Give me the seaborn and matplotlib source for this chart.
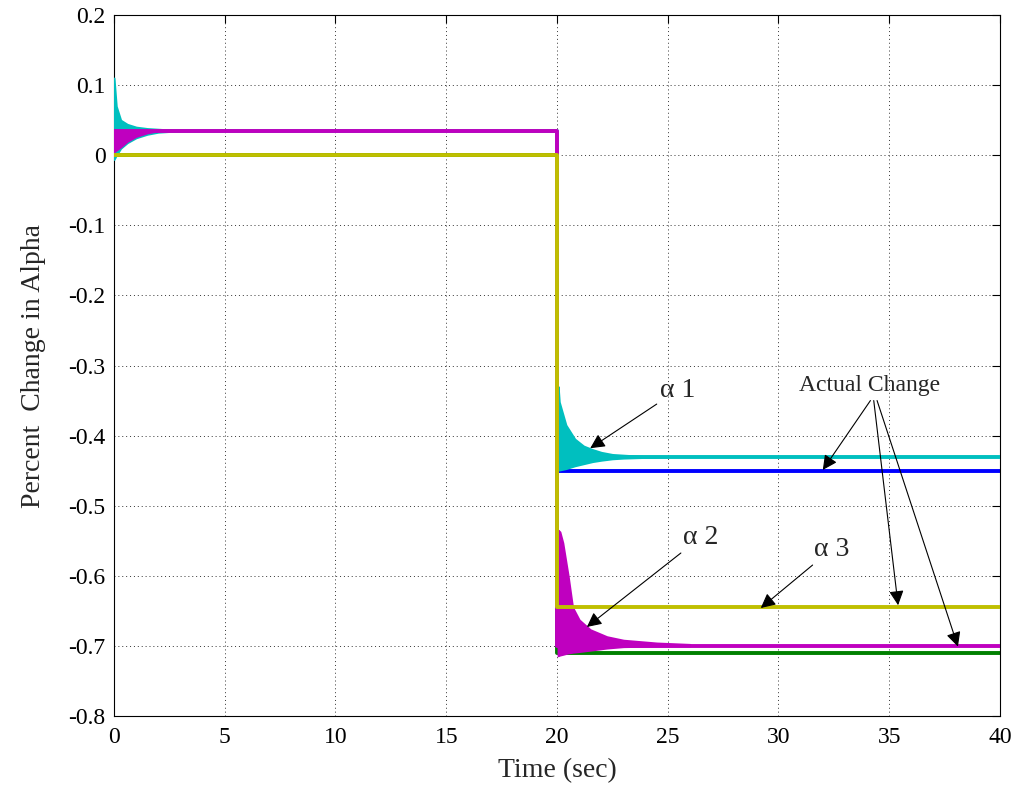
import numpy as np
import pandas as pd
import matplotlib
matplotlib.use("Agg")
import matplotlib.pyplot as plt
import seaborn as sns

# ---- data ----
step_time = [0, 20, 20, 40]
alpha1_est = [0.035, 0.035, -0.43, -0.43]      # cyan
alpha2_est = [0.035, 0.035, -0.70, -0.70]      # magenta
alpha3_est = [0.0, 0.0, -0.645, -0.645]        # yellow
alpha1_act = [0.0, 0.0, -0.45, -0.45]          # blue
alpha2_act = [0.0, 0.0, -0.71, -0.71]          # green

# oscillation envelopes (upper / lower) of the transients
a1_start_t = [0, 0.1, 0.3, 0.6, 1.0, 1.5, 2.0, 2.5, 3.0]
a1_start_hi = [0.11, 0.07, 0.05, 0.044, 0.04, 0.038, 0.037, 0.036, 0.035]
a1_start_lo = [-0.006, 0.0, 0.01, 0.018, 0.025, 0.03, 0.033, 0.034, 0.035]

a2_start_t = [0, 0.3, 0.6, 1.0, 1.5, 2.0]
a2_start_hi = [0.034, 0.035, 0.035, 0.035, 0.035, 0.035]
a2_start_lo = [0.005, 0.012, 0.02, 0.027, 0.032, 0.035]

a1_step_t = [20.05, 20.1, 20.4, 20.8, 21.2, 21.6, 22.0, 22.5, 23.0, 24.0, 25.0]
a1_step_hi = [-0.33, -0.352, -0.385, -0.405, -0.415, -0.42, -0.424, -0.427, -0.428, -0.43, -0.43]
a1_step_lo = [-0.449, -0.449, -0.447, -0.443, -0.44, -0.437, -0.435, -0.433, -0.432, -0.431, -0.43]

a2_step_t = [20.05, 20.13, 20.26, 20.5, 20.7, 21.0, 21.5, 22.25, 23.0, 24.5, 26.0]
a2_step_hi = [-0.535, -0.5375, -0.553, -0.60, -0.645, -0.663, -0.677, -0.687, -0.692, -0.696, -0.698]
a2_step_lo = [-0.714, -0.713, -0.712, -0.71, -0.709, -0.708, -0.706, -0.703, -0.701, -0.70, -0.70]

x_ticks = [0, 5, 10, 15, 20, 25, 30, 35, 40]
y_ticks = [-0.8, -0.7, -0.6, -0.5, -0.4, -0.3, -0.2, -0.1, 0, 0.1, 0.2]
y_tick_labels = ['-0.8', '-0.7', '-0.6', '-0.5', '-0.4', '-0.3', '-0.2', '-0.1', '0', '0.1', '0.2']

# ---- styling ----
sns.set_theme(style="white")
plt.rcParams['font.family'] = ['Liberation Serif', 'DejaVu Serif']
plt.rcParams['axes.unicode_minus'] = False

CYAN = '#00bfbf'
MAGENTA = '#bf00bf'
YELLOW = '#bfbf00'
BLUE = '#0000ff'
GREEN = '#008000'
LW = 2.8

fig = plt.figure(figsize=(10.14, 7.92), dpi=100)
ax = fig.add_axes([0.1124, 0.096, 0.8738, 0.885])

def step_line(vals, color, z):
    df = pd.DataFrame({'t': step_time, 'v': vals})
    sns.lineplot(data=df, x='t', y='v', ax=ax, color=color, lw=LW,
                 sort=False, estimator=None, zorder=z)

step_line(alpha1_act, BLUE, 2)
step_line(alpha2_act, GREEN, 2)
ax.fill_between(a1_start_t, a1_start_lo, a1_start_hi, color=CYAN, lw=1.5, edgecolor=CYAN, zorder=3)
ax.fill_between(a1_step_t, a1_step_lo, a1_step_hi, color=CYAN, lw=1.5, edgecolor=CYAN, zorder=3)
step_line(alpha1_est, CYAN, 3)
ax.fill_between(a2_start_t, a2_start_lo, a2_start_hi, color=MAGENTA, lw=1.5, edgecolor=MAGENTA, zorder=4)
ax.fill_between(a2_step_t, a2_step_lo, a2_step_hi, color=MAGENTA, lw=1.5, edgecolor=MAGENTA, zorder=4)
step_line(alpha2_est, MAGENTA, 4)
step_line(alpha3_est, YELLOW, 5)

ax.set_xlim(0, 40)
ax.set_ylim(-0.8, 0.2)
ax.set_xticks(x_ticks)
ax.set_xticklabels([str(v) for v in x_ticks])
ax.set_yticks(y_ticks)
ax.set_yticklabels(y_tick_labels)
ax.tick_params(direction='in', length=6, width=0.8, top=True, right=True,
               labelsize=17, colors='black', pad=6)
ax.tick_params(axis='x', pad=8)
for s in ax.spines.values():
    s.set_color('black')
    s.set_linewidth(0.8)
ax.grid(True, linestyle=(0, (1, 3)), color='black', linewidth=0.7, alpha=0.8)
ax.set_axisbelow(True)

ax.set_xlabel('Time (sec)', fontsize=20, labelpad=7)
ax.set_ylabel('Percent  Change in Alpha', fontsize=20, labelpad=16)

arrow = dict(arrowstyle='-|>', color='black', lw=0.8, mutation_scale=22,
             shrinkA=0, shrinkB=0)
ax.annotate('α 1', xy=(21.5, -0.418), xytext=(24.65, -0.353), fontsize=20,
            ha='left', va='bottom', arrowprops=arrow, zorder=10)
ax.annotate('α 2', xy=(21.35, -0.673), xytext=(25.7, -0.545), fontsize=20,
            ha='left', va='center', arrowprops=arrow, zorder=10)
ax.annotate('α 3', xy=(29.2, -0.646), xytext=(31.6, -0.58), fontsize=20,
            ha='left', va='bottom', arrowprops=arrow, zorder=10)
ax.text(34.1, -0.328, 'Actual Change', fontsize=17, ha='center', va='center', zorder=10)
for hx, hy, tx in [(32.0, -0.449, 34.15), (35.4, -0.642, 34.3), (38.1, -0.701, 34.45)]:
    ax.annotate('', xy=(hx, hy), xytext=(tx, -0.35), arrowprops=arrow, zorder=10)

fig.savefig('out.png', dpi=100)
